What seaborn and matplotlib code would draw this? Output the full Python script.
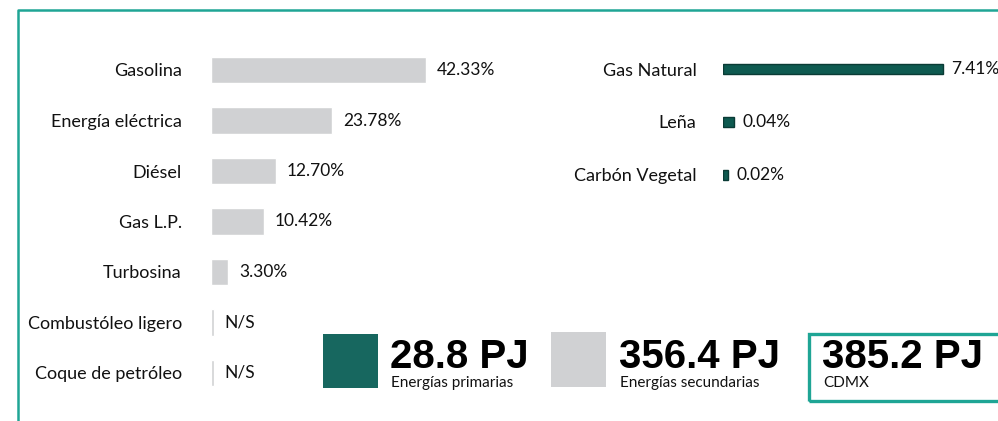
import numpy as np
import pandas as pd
import seaborn as sns
import matplotlib.pyplot as plt
from matplotlib.patches import Rectangle
from matplotlib.lines import Line2D

# Data
sec_labels = ['Gasolina', 'Energía eléctrica', 'Diésel', 'Gas L.P.', 'Turbosina',
              'Combustóleo ligero', 'Coque de petróleo']
sec_values = [42.33, 23.78, 12.70, 10.42, 3.30, 0.0, 0.0]
sec_text = ['42.33%', '23.78%', '12.70%', '10.42%', '3.30%', 'N/S', 'N/S']

pri_labels = ['Gas Natural', 'Leña', 'Carbón Vegetal']
pri_values = [7.41, 0.04, 0.02]
pri_text = ['7.41%', '0.04%', '0.02%']

totals = ['28.8 PJ', '356.4 PJ', '385.2 PJ']
total_names = ['Energías primarias', 'Energías secundarias', 'CDMX']

GREY = '#d0d1d3'
TEAL = '#17675f'
TEAL_DARK = '#0e5a50'
FRAME = '#1fa595'

sns.set_theme(style='white')
plt.rcParams['font.family'] = ['Lato', 'DejaVu Sans']

W, H = 998, 421
fig = plt.figure(figsize=(W / 100, H / 100), dpi=100)


def px_axes(left, top, width, height):
    return fig.add_axes([left / W, 1 - (top + height) / H, width / W, height / H])


# left panel: secondary energies
df_sec = pd.DataFrame({'fuente': sec_labels, 'valor': sec_values})
# N/S shares drawn as a hairline so the row is still marked
df_sec['dibujo'] = np.maximum(df_sec['valor'], 0.5)
ax1 = px_axes(211, 44.75, 250, 353.5)
sns.barplot(data=df_sec, y='fuente', x='dibujo', orient='h', color=GREY,
            saturation=1, width=0.52, ax=ax1)
ax1.set_xlim(0, 250 / 5.08)
ax1.set_ylim(len(sec_labels) - 0.5, -0.5)
for i, (v, t) in enumerate(zip(df_sec['dibujo'], sec_text)):
    ax1.annotate(t, xy=(v, i), xytext=(8, 0), textcoords='offset points',
                 va='center', ha='left', fontsize=12.5, color='#111111')

# right panel: primary energies
df_pri = pd.DataFrame({'fuente': pri_labels, 'valor': pri_values})
# tiny shares magnified so they stay visible, as in the original graphic
df_pri['dibujo'] = np.where(df_pri['valor'] < 0.1, df_pri['valor'] * 9, df_pri['valor'])
ax2 = px_axes(723, 42.5, 250, 159)
sns.barplot(data=df_pri, y='fuente', x='dibujo', orient='h', color=TEAL_DARK,
            saturation=1, width=0.2, edgecolor='#0a3b35', linewidth=1, ax=ax2)
ax2.set_xlim(0, 250 / 29.7)
ax2.set_ylim(len(pri_labels) - 0.5, -0.5)
for i, (v, t) in enumerate(zip(df_pri['dibujo'], pri_text)):
    ax2.annotate(t, xy=(v, i), xytext=(6, 0), textcoords='offset points',
                 va='center', ha='left', fontsize=12.5, color='#111111')

for ax, pad in [(ax1, 21), (ax2, 19)]:
    ax.set_xlabel('')
    ax.set_ylabel('')
    ax.set_xticks([])
    ax.tick_params(axis='y', length=0, pad=pad, labelsize=13, labelcolor='#111111')
    sns.despine(ax=ax, left=True, bottom=True)
    ax.patch.set_alpha(0)

# totals row
fig.add_artist(Rectangle((323 / W, 1 - 388 / H), 55 / W, 54 / H,
                         transform=fig.transFigure, facecolor=TEAL, edgecolor='none'))
fig.add_artist(Rectangle((551 / W, 1 - 387 / H), 55 / W, 55 / H,
                         transform=fig.transFigure, facecolor=GREY, edgecolor='none'))
fig.add_artist(Rectangle((808.5 / W, 1 - 400.5 / H), 200 / W, 67 / H,
                         transform=fig.transFigure, facecolor='none',
                         edgecolor=FRAME, linewidth=2.4))

for x, big, small in zip([390, 619, 822], totals, total_names):
    fig.text(x / W, 1 - 368 / H, big, fontsize=29, fontweight='bold',
             family='Liberation Sans', color='black', ha='left', va='baseline')
    fig.text((x + 1) / W, 1 - 383 / H, small, fontsize=11, color='#111111',
             ha='left', va='center')

# outer frame (top and left edges)
fig.add_artist(Line2D([17.5 / W, 17.5 / W, 1], [0, 1 - 9.5 / H, 1 - 9.5 / H],
                      transform=fig.transFigure, color=FRAME, linewidth=1.8))

fig.savefig('out.png', dpi=100)
